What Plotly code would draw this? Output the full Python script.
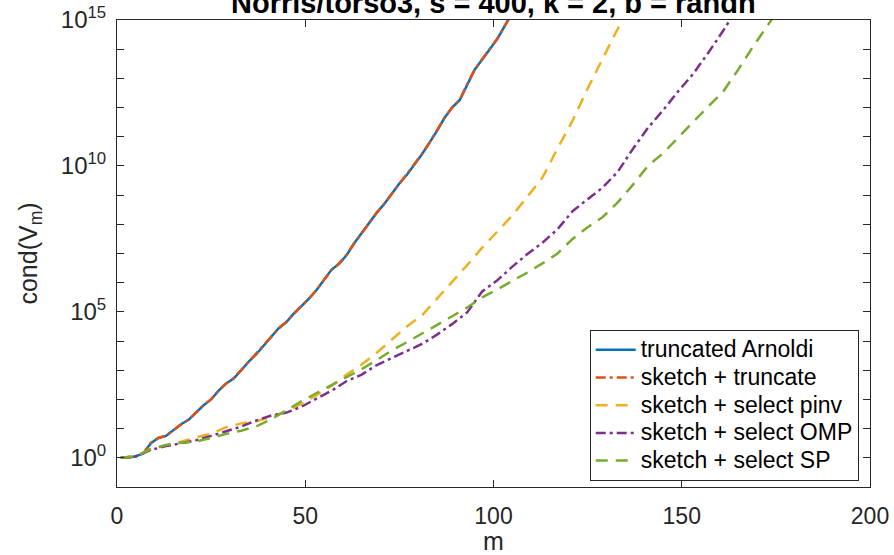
import plotly.graph_objects as go

# ---- data (log10 of cond(V_m)) ----
m_trunc = list(range(1, 107, 2))
arnoldi_log = [0, 0, 0.05, 0.15, 0.5, 0.68, 0.75, 0.95, 1.15, 1.3, 1.55, 1.8, 2.0, 2.3, 2.55,
               2.72, 3.0, 3.3, 3.55, 3.85, 4.15, 4.45, 4.65, 4.95, 5.2, 5.45, 5.75, 6.1, 6.45,
               6.65, 6.95, 7.35, 7.7, 8.05, 8.4, 8.7, 9.05, 9.4, 9.7, 10.05, 10.4, 10.8, 11.2,
               11.65, 12.0, 12.25, 12.8, 13.3, 13.65, 14.0, 14.35, 14.8, 15.25]
sk_trunc_log = [0, 0, 0.05, 0.16, 0.52, 0.68, 0.76, 0.96, 1.14, 1.31, 1.56, 1.8, 2.01, 2.31, 2.55,
                2.73, 3.01, 3.3, 3.56, 3.86, 4.15, 4.44, 4.66, 4.95, 5.21, 5.46, 5.75, 6.1, 6.44,
                6.66, 6.96, 7.35, 7.71, 8.05, 8.4, 8.71, 9.05, 9.4, 9.71, 10.05, 10.41, 10.8, 11.21,
                11.65, 12.0, 12.26, 12.8, 13.3, 13.66, 14.0, 14.36, 14.8, 15.25]

m_pinv = list(range(1, 141, 4))
pinv_log = [0, 0.05, 0.3, 0.42, 0.55, 0.7, 0.82, 1.05, 1.18, 1.25, 1.4, 1.6, 1.85, 2.15, 2.47,
            2.85, 3.2, 3.6, 4.05, 4.5, 4.88, 5.45, 6.05, 6.6, 7.2, 7.75, 8.3, 8.95, 9.6, 10.6,
            11.55, 12.65, 13.7, 14.7, 15.6]

m_omp = list(range(1, 169, 4))
omp_log = [0, 0.05, 0.27, 0.4, 0.5, 0.6, 0.75, 0.9, 1.07, 1.28, 1.45, 1.55, 1.75, 2.03, 2.3,
           2.63, 2.85, 3.18, 3.42, 3.65, 3.9, 4.22, 4.58, 4.98, 5.7, 6.08, 6.55, 6.98, 7.37,
           7.83, 8.45, 8.86, 9.26, 9.8, 10.58, 11.3, 11.9, 12.55, 13.15, 13.87, 14.63, 15.45]

m_sp = list(range(1, 181, 4))
sp_log = [0, 0.05, 0.3, 0.44, 0.52, 0.56, 0.68, 0.82, 0.93, 1.08, 1.32, 1.63, 1.94, 2.22, 2.5,
          2.78, 3.04, 3.35, 3.68, 3.96, 4.25, 4.55, 4.85, 5.15, 5.5, 5.77, 6.05, 6.35, 6.66,
          7.0, 7.5, 7.9, 8.25, 8.75, 9.35, 10.0, 10.43, 10.95, 11.5, 12.03, 12.55, 13.3, 14.1,
          14.85, 15.6]

series_names = ["truncated Arnoldi", "sketch + truncate", "sketch + select pinv",
                "sketch + select OMP", "sketch + select SP"]
y_tick_exps = list(range(-1, 16))
x_tick_vals = [0, 50, 100, 150, 200]

colors = ["#0072BD", "#D95319", "#EDB120", "#7E2F8E", "#77AC30"]
dashes = ["solid", "10px,4px,3px,4px", "12px,8px", "10px,4px,3px,4px", "12px,8px"]
xs = [m_trunc, m_trunc, m_pinv, m_omp, m_sp]
ys = [arnoldi_log, sk_trunc_log, pinv_log, omp_log, sp_log]

fig = go.Figure()
for name, x, ly, c, d in zip(series_names, xs, ys, colors, dashes):
    fig.add_trace(go.Scatter(x=x, y=[10 ** v for v in ly], mode="lines",
                             name='<span style="font-size:23px">%s</span>' % name,
                             line=dict(color=c, width=2.5, dash=d)))

font = "Liberation Sans, Arial, Helvetica, sans-serif"
ticktext = [("10<sup>%d</sup>" % e) if e % 5 == 0 and e >= 0 else "" for e in y_tick_exps]

fig.update_layout(
    width=894, height=555,
    margin=dict(l=117, r=24, t=20, b=68),
    paper_bgcolor="white", plot_bgcolor="white",
    font=dict(family=font, color="#262626"),
    showlegend=True,
    legend=dict(x=0.985, y=0.013, xanchor="right", yanchor="bottom",
                bgcolor="white", bordercolor="#262626", borderwidth=1,
                font=dict(size=19, color="black"), tracegroupgap=0, itemwidth=40),
    annotations=[dict(text="<b>Norris/torso3, s = 400, k = 2, b = randn</b>",
                      xref="paper", yref="paper", x=0.5, y=1.0 + 17 / 467,
                      xanchor="center", yanchor="middle", showarrow=False,
                      font=dict(size=29, color="black", family=font))],
)
fig.update_xaxes(range=[0, 200], tickvals=x_tick_vals, ticks="inside", ticklen=7,
                 tickcolor="#262626", showline=True, linecolor="#262626", linewidth=1,
                 mirror="ticks", showgrid=False, zeroline=False, automargin=False,
                 ticklabelstandoff=8,
                 tickfont=dict(size=23, color="#262626"),
                 title=dict(text="m", font=dict(size=25, color="#262626"), standoff=4))
fig.update_yaxes(type="log", range=[-1, 15], tickvals=[10.0 ** e for e in y_tick_exps],
                 ticktext=ticktext, ticks="inside", ticklen=7, tickcolor="#262626",
                 showline=True, linecolor="#262626", linewidth=1, mirror="ticks",
                 showgrid=False, zeroline=False, automargin=False, ticklabelstandoff=5,
                 tickfont=dict(size=24, color="#262626"),
                 title=dict(text="cond(V<sub>m</sub>)", font=dict(size=25, color="#262626"),
                            standoff=16))

fig.write_html("out.html", config={"displayModeBar": False},
               post_script="document.body.style.margin='0px';")
